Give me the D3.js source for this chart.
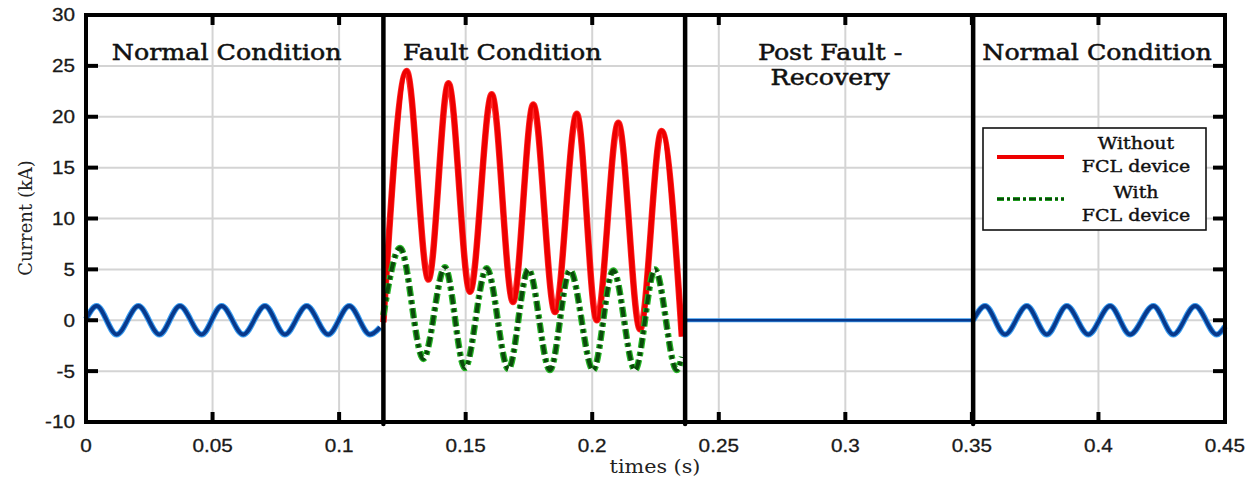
<!DOCTYPE html>
<html>
<head>
<meta charset="utf-8">
<script src="https://cdn.jsdelivr.net/npm/d3@7"></script>
<style>
  html, body { margin: 0; padding: 0; background: #fff; }
  svg { display: block; }
</style>
</head>
<body>
<div id="field"></div>
<script>
'use strict';

// ---- data ----
const xTicks = [0, 0.05, 0.1, 0.15, 0.2, 0.25, 0.3, 0.35, 0.4, 0.45];
const yTicks = [-10, -5, 0, 5, 10, 15, 20, 25, 30];
const boundaries = [0.1175, 0.2367, 0.3505];   // normal | fault | recovery | normal
const regionLabels = [['Normal Condition'], ['Fault Condition'], ['Post Fault -', 'Recovery'], ['Normal Condition']];
const legendLabels = [['Without', 'FCL device'], ['With', 'FCL device']];

// normal operation before the fault (peaks / troughs)
const timesNormal1   = [0, 0.0042, 0.0121, 0.0207, 0.0290, 0.0371, 0.0457, 0.0536, 0.0621, 0.0707, 0.0786, 0.0872, 0.0957, 0.1040, 0.1122, 0.1162];
const currentNormal1 = [0.1, 1.4, -1.4, 1.4, -1.4, 1.4, -1.4, 1.4, -1.4, 1.4, -1.4, 1.4, -1.4, 1.4, -1.4, -0.7];
// post fault recovery (line is flat)
const timesPost   = [0.2367, 0.3505];
const currentPost = [0, 0];
// normal operation after recovery
const timesNormal2   = [0.3505, 0.3552, 0.3631, 0.3717, 0.3796, 0.3875, 0.3960, 0.4046, 0.4125, 0.4217, 0.4296, 0.4382, 0.4467, 0.45];
const currentNormal2 = [0, 1.4, -1.4, 1.4, -1.4, 1.4, -1.4, 1.4, -1.4, 1.4, -1.4, 1.4, -1.4, -0.6];
// fault: without FCL device
const timesWithout   = [0.1175, 0.1267, 0.1353, 0.1432, 0.1517, 0.1603, 0.1687, 0.1767, 0.1853, 0.1939, 0.2018, 0.2103, 0.2189, 0.2274, 0.2354];
const currentWithout = [-0.2, 24.5, 4.0, 23.3, 2.8, 22.2, 1.8, 21.2, 0.8, 20.3, 0.0, 19.4, -0.9, 18.6, -1.6];
// fault: with FCL device
const timesWith   = [0.1175, 0.1241, 0.1333, 0.1418, 0.1497, 0.1583, 0.1669, 0.1748, 0.1833, 0.1912, 0.2004, 0.2083, 0.2169, 0.2248, 0.2334, 0.2354];
const currentWith = [0.5, 7.1, -3.8, 5.2, -4.7, 5.1, -4.8, 5.0, -4.9, 4.9, -4.9, 4.9, -4.9, 5.0, -4.9, -3.6];

(function() {
  const w = 1257, h = 479;
  const pLeft = 86, pRight = 1225, pTop = 15, pBottom = 422;
  const stretch = 1.15;  // the picture is a bit wider than tall

  const svg = d3.select('#field').append('svg').attr('width', w).attr('height', h);

  const x = d3.scaleLinear().domain([0, 0.45]).range([pLeft, pRight]);
  const y = d3.scaleLinear().domain([-10, 30]).range([pBottom, pTop]);

  function pairs(ts, vs) { return ts.map((t, i) => [t, vs[i]]); }
  const line = d3.line().x(d => x(d[0])).y(d => y(d[1])).curve(d3.curveMonotoneX);

  // widen text like the source image
  function widen(sel) {
    sel.each(function() {
      const len = this.getComputedTextLength();
      d3.select(this).attr('textLength', len * stretch).attr('lengthAdjust', 'spacingAndGlyphs');
    });
  }

  // grid
  const grid = svg.append('g').attr('stroke', '#d4d4d4').attr('stroke-width', 2);
  grid.selectAll('.vg').data(xTicks).enter().append('line')
    .attr('x1', d => x(d)).attr('x2', d => x(d)).attr('y1', pTop).attr('y2', pBottom);
  grid.selectAll('.hg').data(yTicks).enter().append('line')
    .attr('x1', pLeft).attr('x2', pRight).attr('y1', d => y(d)).attr('y2', d => y(d));

  // tick labels
  svg.append('g').selectAll('text').data(xTicks).enter().append('text')
    .attr('x', d => x(d)).attr('y', 452)
    .attr('text-anchor', 'middle')
    .attr('font-family', 'Liberation Sans, Arial, sans-serif')
    .attr('font-size', 18).attr('fill', '#1a1a1a').attr('stroke', '#1a1a1a').attr('stroke-width', 0.3)
    .text(d => d3.format('~g')(d))
    .call(widen);
  svg.append('g').selectAll('text').data(yTicks).enter().append('text')
    .attr('x', 75).attr('y', d => y(d)).attr('dy', '0.36em')
    .attr('text-anchor', 'end')
    .attr('font-family', 'Liberation Sans, Arial, sans-serif')
    .attr('font-size', 18).attr('fill', '#1a1a1a').attr('stroke', '#1a1a1a').attr('stroke-width', 0.3)
    .text(d => d)
    .call(widen);

  svg.append('text')
    .attr('x', 655).attr('y', 473).attr('text-anchor', 'middle')
    .attr('font-family', 'DejaVu Serif, serif').attr('font-size', 18).attr('fill', '#222')
    .text('times (s)').call(widen);
  svg.append('text')
    .attr('transform', 'translate(32,218) rotate(-90)')
    .attr('text-anchor', 'middle')
    .attr('font-family', 'DejaVu Serif, serif').attr('font-size', 18).attr('fill', '#222')
    .text('Current (kA)');

  // traces
  function trace(data, outer, inner, wOut, wIn, dash) {
    const g = svg.append('g').attr('fill', 'none').attr('stroke-linejoin', 'round');
    g.append('path').datum(data).attr('d', line)
      .attr('stroke', outer).attr('stroke-width', wOut).attr('stroke-dasharray', dash || null);
    g.append('path').datum(data).attr('d', line)
      .attr('stroke', inner).attr('stroke-width', wIn).attr('stroke-dasharray', dash || null);
  }
  trace(pairs(timesNormal1, currentNormal1), '#3a9cf0', '#08398c', 6, 3.8);
  trace(pairs(timesPost, currentPost), '#3a9cf0', '#08398c', 4, 2.6);
  trace(pairs(timesNormal2, currentNormal2), '#3a9cf0', '#08398c', 6, 3.8);
  trace(pairs(timesWithout, currentWithout), '#ff2a2a', '#ee0000', 6.5, 5);
  trace(pairs(timesWith, currentWith), '#27b527', '#0b4a0b', 6.5, 4, '10,4,4,4');

  // frame + ticks
  svg.append('rect')
    .attr('x', pLeft).attr('y', pTop).attr('width', pRight - pLeft).attr('height', pBottom - pTop)
    .attr('fill', 'none').attr('stroke', '#000').attr('stroke-width', 4);
  const ticks = svg.append('g').attr('stroke', '#000').attr('stroke-width', 4);
  xTicks.forEach(t => {
    ticks.append('line').attr('x1', x(t)).attr('x2', x(t)).attr('y1', pBottom).attr('y2', pBottom - 10);
    ticks.append('line').attr('x1', x(t)).attr('x2', x(t)).attr('y1', pTop).attr('y2', pTop + 10);
  });
  yTicks.forEach(v => {
    ticks.append('line').attr('x1', pLeft).attr('x2', pLeft + 12).attr('y1', y(v)).attr('y2', y(v));
    ticks.append('line').attr('x1', pRight).attr('x2', pRight - 12).attr('y1', y(v)).attr('y2', y(v));
  });

  // condition boundaries
  svg.append('g').selectAll('line').data(boundaries).enter().append('line')
    .attr('x1', d => x(d)).attr('x2', d => x(d)).attr('y1', pTop + 2).attr('y2', pBottom + 2)
    .attr('stroke', '#000').attr('stroke-width', 4.5).attr('stroke-linecap', 'round');

  // region labels
  const edges = [0].concat(boundaries, [0.45]);
  const labelShift = [-8, -32, 1, -2];
  regionLabels.forEach((lines, i) => {
    const cx = (x(edges[i]) + x(edges[i + 1])) / 2 + labelShift[i];
    lines.forEach((s, j) => {
      svg.append('text')
        .attr('x', cx).attr('y', 60 + j * 25).attr('text-anchor', 'middle')
        .attr('font-family', 'DejaVu Serif, serif').attr('font-size', 22)
        .attr('fill', '#111').attr('stroke', '#111').attr('stroke-width', 0.5)
        .text(s).call(widen);
    });
  });

  // legend
  const lg = svg.append('g');
  lg.append('rect').attr('x', 983).attr('y', 128).attr('width', 223).attr('height', 102)
    .attr('fill', '#fff').attr('stroke', '#111').attr('stroke-width', 1.6);
  lg.append('line').attr('x1', 997).attr('x2', 1064).attr('y1', 157).attr('y2', 157)
    .attr('stroke', '#ee0000').attr('stroke-width', 4);
  lg.append('line').attr('x1', 997).attr('x2', 1064).attr('y1', 199).attr('y2', 199)
    .attr('stroke', '#27b527').attr('stroke-width', 4).attr('stroke-dasharray', '7,3,3,3');
  lg.append('line').attr('x1', 997).attr('x2', 1064).attr('y1', 199).attr('y2', 199)
    .attr('stroke', '#0b4a0b').attr('stroke-width', 2.4).attr('stroke-dasharray', '7,3,3,3');
  legendLabels.forEach((lines, i) => {
    lines.forEach((s, j) => {
      lg.append('text')
        .attr('x', 1136).attr('y', 149 + i * 49 + j * 23).attr('text-anchor', 'middle')
        .attr('font-family', 'DejaVu Serif, serif').attr('font-size', 16.5)
        .attr('fill', '#111').attr('stroke', '#111').attr('stroke-width', 0.4)
        .text(s).call(widen);
    });
  });
})();
</script>
</body>
</html>
